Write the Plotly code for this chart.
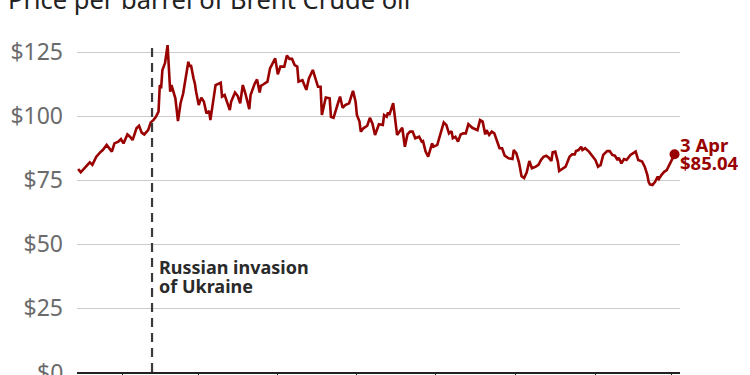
import plotly.graph_objects as go

title_text = "Price per barrel of Brent Crude oil"

dates = [
    "2021-12-29", "2021-12-31", "2022-01-04", "2022-01-07", "2022-01-09", "2022-01-12", "2022-01-15",
    "2022-01-17", "2022-01-20", "2022-01-22", "2022-01-24", "2022-01-26", "2022-01-29", "2022-01-31",
    "2022-02-02", "2022-02-05", "2022-02-07", "2022-02-09", "2022-02-12", "2022-02-14", "2022-02-16",
    "2022-02-18", "2022-02-21", "2022-02-23", "2022-02-25", "2022-02-27", "2022-03-01", "2022-03-02",
    "2022-03-03", "2022-03-04", "2022-03-06", "2022-03-08", "2022-03-09", "2022-03-10", "2022-03-11",
    "2022-03-13", "2022-03-14", "2022-03-16", "2022-03-18", "2022-03-20", "2022-03-22", "2022-03-24",
    "2022-03-25", "2022-03-26", "2022-03-28", "2022-03-29", "2022-03-30", "2022-04-01", "2022-04-03",
    "2022-04-05", "2022-04-07", "2022-04-09", "2022-04-10", "2022-04-13", "2022-04-14", "2022-04-18",
    "2022-04-19", "2022-04-21", "2022-04-25", "2022-04-26", "2022-04-29", "2022-05-01", "2022-05-03",
    "2022-05-05", "2022-05-07", "2022-05-10", "2022-05-11", "2022-05-14", "2022-05-16", "2022-05-18",
    "2022-05-19", "2022-05-21", "2022-05-24", "2022-05-26", "2022-05-29", "2022-05-30", "2022-06-01",
    "2022-06-03", "2022-06-06", "2022-06-08", "2022-06-10", "2022-06-12", "2022-06-14", "2022-06-16",
    "2022-06-17", "2022-06-20", "2022-06-23", "2022-06-25", "2022-06-28", "2022-06-30", "2022-07-02",
    "2022-07-04", "2022-07-05", "2022-07-08", "2022-07-11", "2022-07-12", "2022-07-14", "2022-07-17",
    "2022-07-19", "2022-07-21", "2022-07-23", "2022-07-26", "2022-07-29", "2022-07-31", "2022-08-01",
    "2022-08-03", "2022-08-04", "2022-08-06", "2022-08-09", "2022-08-11", "2022-08-13", "2022-08-15",
    "2022-08-18", "2022-08-21", "2022-08-22", "2022-08-24", "2022-08-25", "2022-08-26", "2022-08-29",
    "2022-09-01", "2022-09-03", "2022-09-05", "2022-09-07", "2022-09-09", "2022-09-11", "2022-09-13",
    "2022-09-15", "2022-09-18", "2022-09-20", "2022-09-21", "2022-09-23", "2022-09-25", "2022-09-28",
    "2022-09-29", "2022-10-02", "2022-10-04", "2022-10-07", "2022-10-09", "2022-10-11", "2022-10-13",
    "2022-10-14", "2022-10-16", "2022-10-18", "2022-10-20", "2022-10-22", "2022-10-24", "2022-10-26",
    "2022-10-29", "2022-10-31", "2022-11-02", "2022-11-04", "2022-11-06", "2022-11-08", "2022-11-09",
    "2022-11-11", "2022-11-13", "2022-11-15", "2022-11-17", "2022-11-19", "2022-11-21", "2022-11-23",
    "2022-11-26", "2022-11-29", "2022-11-30", "2022-12-02", "2022-12-04", "2022-12-06", "2022-12-08",
    "2022-12-10", "2022-12-12", "2022-12-14", "2022-12-17", "2022-12-19", "2022-12-21", "2022-12-23",
    "2022-12-25", "2022-12-27", "2022-12-29", "2022-12-30", "2023-01-01", "2023-01-03", "2023-01-04",
    "2023-01-07", "2023-01-09", "2023-01-12", "2023-01-14", "2023-01-16", "2023-01-17", "2023-01-19",
    "2023-01-21", "2023-01-22", "2023-01-24", "2023-01-27", "2023-01-29", "2023-02-01", "2023-02-03",
    "2023-02-05", "2023-02-07", "2023-02-10", "2023-02-12", "2023-02-14", "2023-02-16", "2023-02-18",
    "2023-02-19", "2023-02-21", "2023-02-23", "2023-02-25", "2023-02-28", "2023-03-02", "2023-03-04",
    "2023-03-06", "2023-03-08", "2023-03-09", "2023-03-11", "2023-03-13", "2023-03-14", "2023-03-15",
    "2023-03-17", "2023-03-19", "2023-03-21", "2023-03-22", "2023-03-24", "2023-03-26", "2023-03-28",
    "2023-03-30", "2023-03-31", "2023-04-03",
]

prices = [
    79.3, 78.0, 80.2, 81.9, 80.9, 84.1, 85.8,
    86.7, 88.7, 87.6, 86.1, 89.3, 90.0, 91.0,
    89.3, 92.8, 91.9, 90.6, 95.2, 96.2, 93.5,
    92.8, 94.5, 97.5, 98.4, 99.7, 101.7, 112.1,
    110.8, 118.0, 120.6, 127.7, 119.9, 109.5, 112.1,
    108.5, 106.9, 98.0, 105.0, 108.8, 115.4, 121.2,
    119.3, 119.9, 114.7, 112.8, 109.5, 104.3, 107.2,
    105.6, 101.0, 102.0, 98.4, 108.8, 112.1, 113.0,
    107.6, 108.2, 102.3, 105.6, 109.2, 107.9, 105.0,
    112.1, 108.8, 102.7, 108.2, 112.4, 114.3, 109.2,
    111.8, 112.4, 113.4, 118.6, 121.2, 122.5, 116.3,
    119.3, 119.3, 123.6, 122.3, 122.3, 119.9, 119.3,
    113.4, 114.0, 110.2, 114.7, 118.0, 114.7, 111.4,
    111.4, 100.4, 107.2, 106.9, 99.7, 99.3, 104.3,
    107.6, 103.2, 104.3, 105.0, 109.8, 105.6, 100.4,
    97.8, 93.9, 95.2, 96.2, 99.3, 97.0, 92.6,
    96.8, 96.5, 100.4, 99.7, 101.4, 100.4, 105.0,
    92.6, 93.9, 95.4, 88.0, 92.8, 93.9, 93.9,
    91.3, 91.9, 90.0, 90.2, 86.1, 84.1, 89.3,
    88.0, 88.7, 92.6, 97.5, 96.5, 93.2, 94.1,
    91.3, 91.9, 90.0, 92.8, 93.2, 93.2, 96.8,
    95.4, 94.9, 94.5, 98.4, 97.8, 92.8, 94.5,
    92.6, 93.9, 93.2, 90.0, 87.4, 87.4, 84.5,
    83.5, 83.2, 86.7, 85.4, 81.9, 76.5, 75.8,
    78.0, 82.4, 79.6, 80.2, 80.9, 82.8, 84.1,
    84.5, 83.7, 82.4, 85.8, 86.1, 82.2, 78.5,
    79.6, 80.2, 84.1, 85.0, 85.0, 86.3, 86.7,
    88.0, 86.7, 87.4, 86.1, 84.8, 82.8, 80.2,
    80.9, 84.8, 86.3, 86.3, 84.8, 84.5, 82.8,
    83.7, 81.5, 83.2, 82.8, 84.8, 85.4, 86.1,
    82.8, 82.4, 82.2, 80.2, 77.0, 74.3, 73.3,
    73.0, 74.3, 76.3, 75.4, 77.0, 78.2, 78.9,
    80.9, 81.5, 85.04,
]

y_tickvals = [25, 50, 75, 100, 125]
y_ticktext = ["$25", "$50", "$75", "$100", "$125"]
y_zero_label = "$0"

invasion_date = "2022-02-24"
invasion_lines = ["Russian invasion", "of Ukraine"]
end_lines = ["3 Apr", "$85.04"]

RED = "#990000"
FONT = "Noto Sans"


def tight_lines(lines, glyph_px):
    return "<br>".join(f"<span style='font-size:{glyph_px}px'>{t}</span>" for t in lines)


fig = go.Figure()
fig.add_trace(go.Scatter(
    x=dates, y=prices, mode="lines",
    line=dict(color=RED, width=2.6), hoverinfo="skip", cliponaxis=False,
))
fig.add_trace(go.Scatter(
    x=[dates[-1]], y=[prices[-1]], mode="markers",
    marker=dict(color=RED, size=10), hoverinfo="skip", cliponaxis=False,
))

fig.add_shape(type="line", xref="x", yref="y",
              x0=invasion_date, x1=invasion_date, y0=0, y1=128,
              line=dict(color="#3a3a3a", width=2.2, dash="9px,6px"))

# invasion label (base size sets the line spacing, span sets glyph size)
fig.add_annotation(x=invasion_date, y=37.4, xref="x", yref="y",
                   text=tight_lines(invasion_lines, 18), showarrow=False,
                   xanchor="left", yanchor="middle", xshift=5, align="left",
                   font=dict(family=FONT, size=14.6, color="#2a2a2a", weight="bold"))

# end label
fig.add_annotation(x=dates[-1], y=prices[-1], xref="x", yref="y",
                   text=tight_lines(end_lines, 18.5), showarrow=False,
                   xanchor="left", yanchor="middle", xshift=3, yshift=0.5, align="left",
                   font=dict(family=FONT, size=13.9, color=RED, weight="bold"))

# $0 tick label (drawn as annotation so it is not dropped at the edge)
fig.add_annotation(x=0, y=0, xref="paper", yref="y",
                   text=y_zero_label, showarrow=False, xanchor="right", yanchor="middle",
                   xshift=-12,
                   font=dict(family=FONT, size=23, color="#6b6b6b"))

fig.add_annotation(x=-0.118, y=1.12, xref="paper", yref="paper",
                   text=title_text, showarrow=False, xanchor="left", yanchor="middle",
                   font=dict(family=FONT, size=25.5, color="#222222"))

fig.update_layout(
    width=750, height=375,
    margin=dict(l=77, r=70, t=39, b=3, autoexpand=False),
    paper_bgcolor="white", plot_bgcolor="white",
    showlegend=False,
    font=dict(family=FONT),
    xaxis=dict(
        range=["2021-12-28 03:00", "2023-04-07 05:00"],
        showgrid=False, zeroline=False, automargin=False,
        showline=True, linecolor="#222222", linewidth=2,
        ticks="outside", tickcolor="#222222", tickwidth=1, ticklen=8,
        tick0="2022-02-01", dtick="M2",
        showticklabels=False,
    ),
    yaxis=dict(
        range=[0, 130.08], automargin=False,
        tickvals=y_tickvals, ticktext=y_ticktext,
        showgrid=True, gridcolor="#cccccc", gridwidth=1,
        zeroline=False, showline=False, ticks="",
        tickfont=dict(family=FONT, size=23, color="#6b6b6b"),
        ticklabelstandoff=13,
    ),
)

fig.write_html("out.html", config={"displayModeBar": False},
               post_script="document.body.style.margin='0';")
